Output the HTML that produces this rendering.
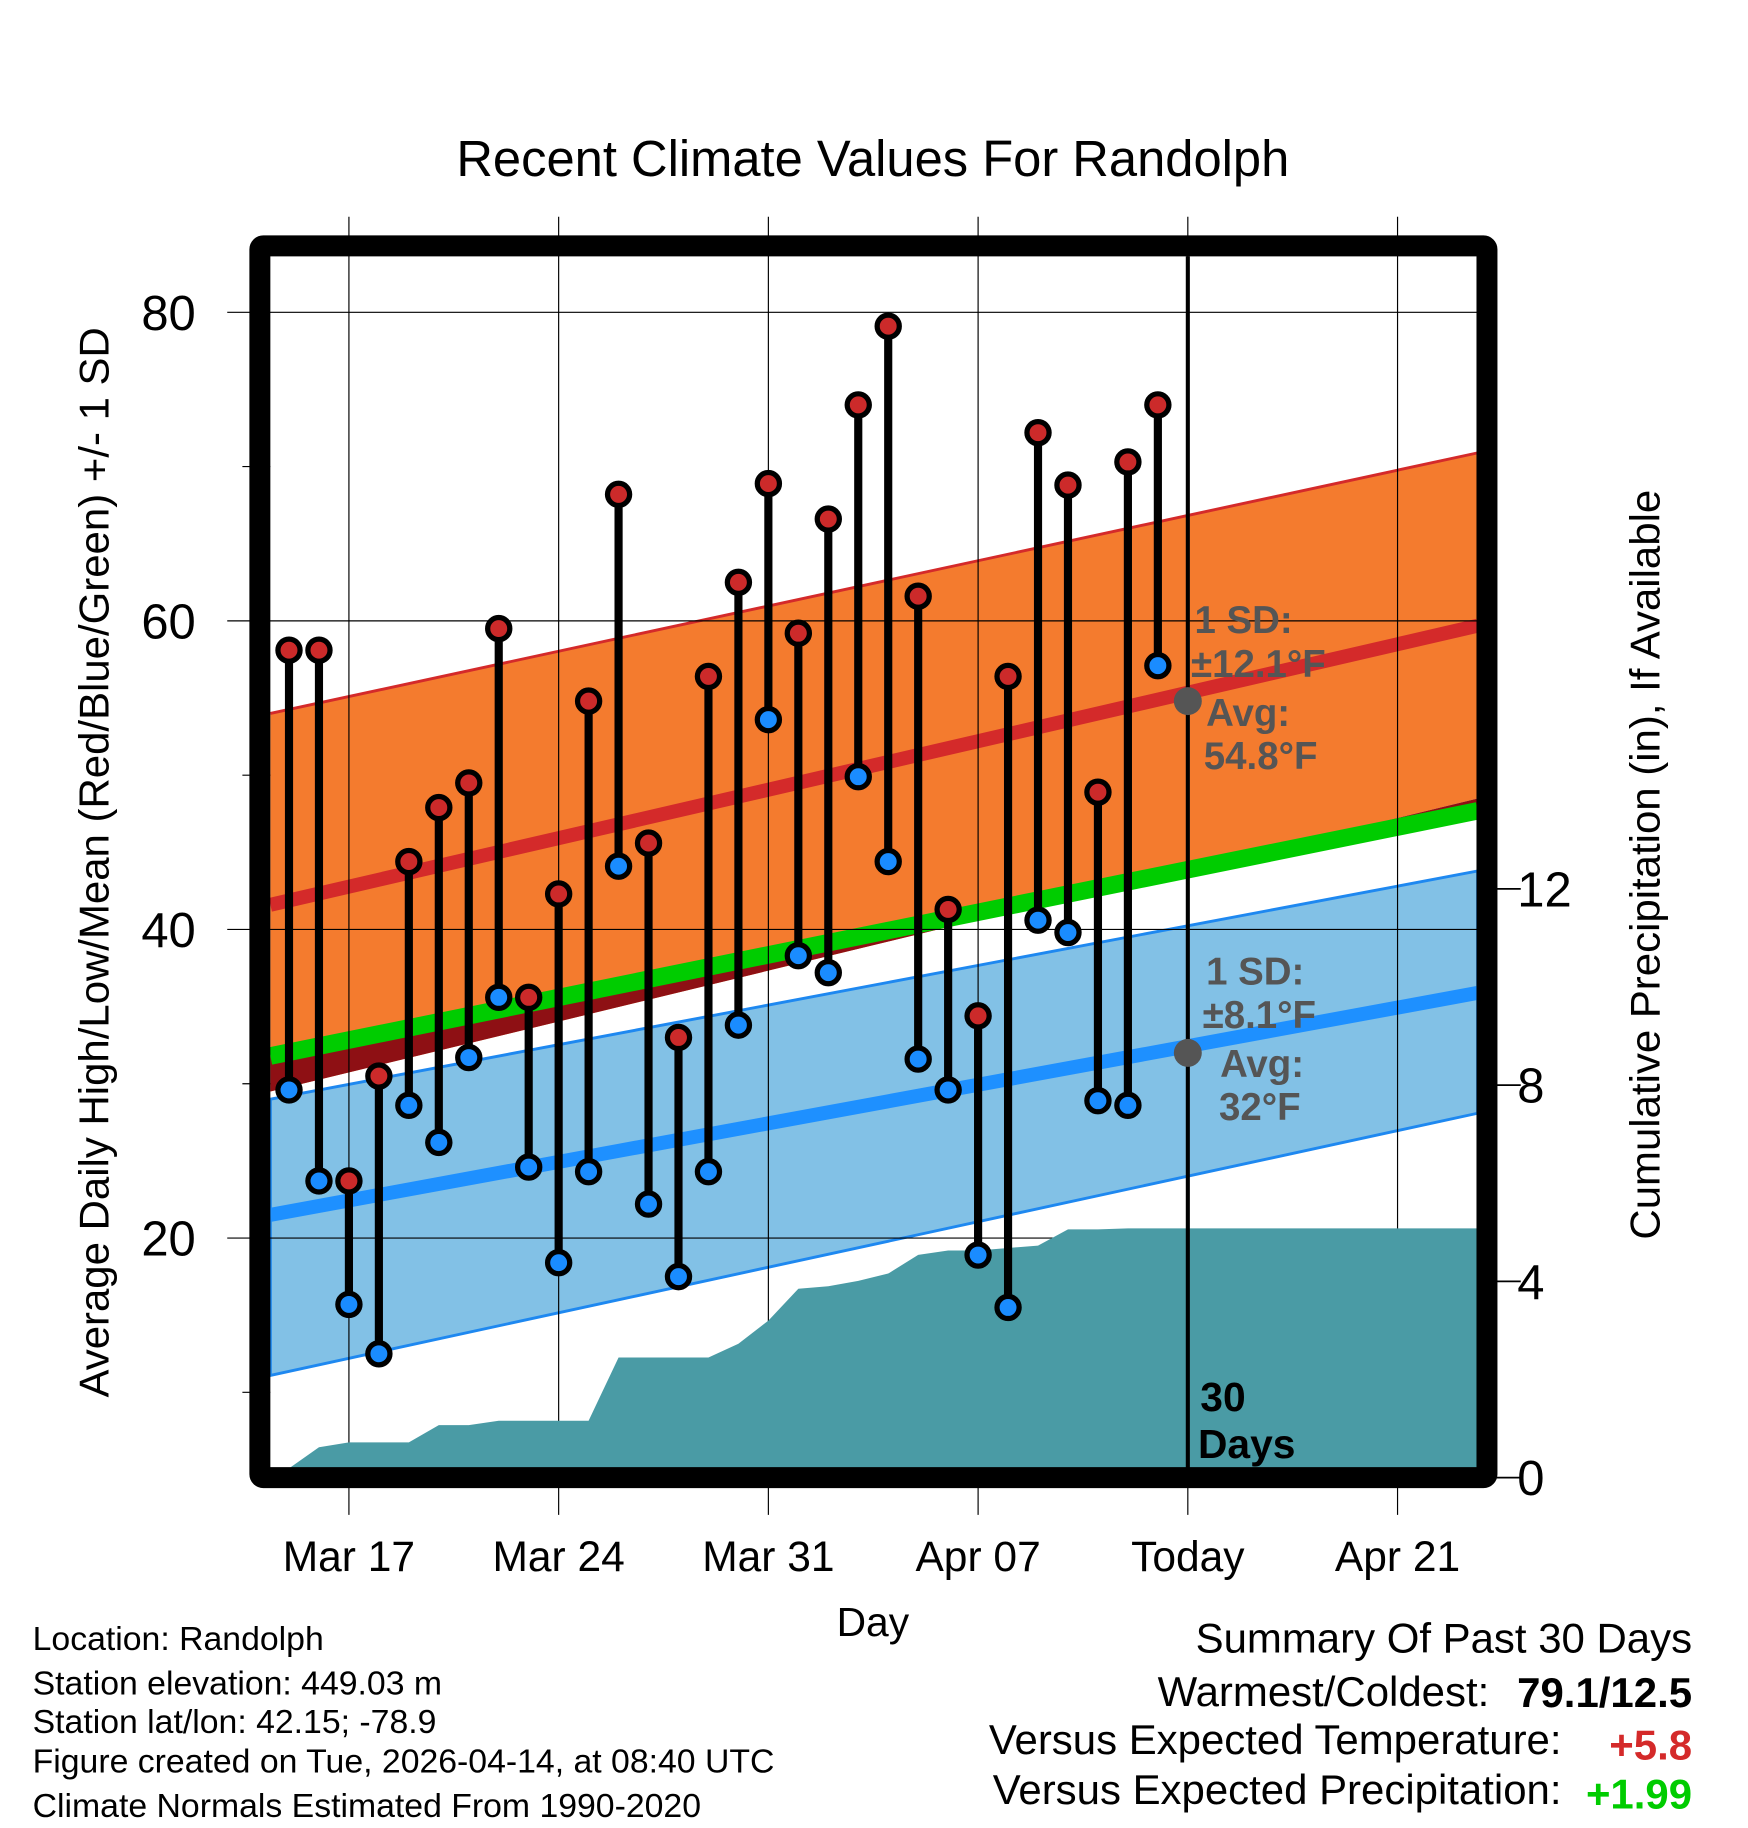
<!DOCTYPE html>
<html><head><meta charset="utf-8"><style>
html,body{margin:0;padding:0;background:#fff}
svg{display:block}
text{font-family:"Liberation Sans",Arial,sans-serif}
</style></head><body>
<svg id="chart" width="1748" height="1828" viewBox="0 0 1500 1568.65" xmlns="http://www.w3.org/2000/svg">
<g id="bands"></g>
<g id="grid"></g>
<g id="precip"></g>
<g id="marks"></g>
<g id="frame"></g>
<g id="labels"></g>
</svg>
<script>
// ---- data ----
const dayIndex = [0,1,2,3,4,5,6,7,8,9,10,11,12,13,14,15,16,17,18,19,20,21,22,23,24,25,26,27,28,29];
const highs = [58.1,58.1,23.7,30.5,44.4,47.9,49.5,59.5,35.6,42.3,54.8,68.2,45.6,33.0,56.4,62.5,68.9,59.2,66.6,74.0,79.1,61.6,41.3,34.4,56.4,72.2,68.8,48.9,70.3,74.0];
const lows  = [29.6,23.7,15.7,12.5,28.6,26.2,31.7,35.6,24.6,18.4,24.3,44.1,22.2,17.5,24.3,33.8,53.6,38.3,37.2,49.9,44.4,31.6,29.6,18.9,15.5,40.6,39.8,28.9,28.6,57.1];
const precipCum = [0,0.62,0.72,0.72,0.72,1.07,1.07,1.16,1.16,1.16,1.16,2.45,2.45,2.45,2.45,2.73,3.2,3.85,3.9,4.01,4.16,4.54,4.63,4.63,4.68,4.73,5.06,5.06,5.08,5.08];
const normDays = [-0.62, 39.7];
const normHigh = [41.6, 59.7];
const normHighSDup = [54.0, 70.9];
const normHighSDlo = [29.5, 48.5];
const normMean = [31.8, 47.7];
const normLow = [21.5, 35.9];
const normLowSDup = [29.0, 43.8];
const normLowSDlo = [11.1, 28.1];
const yTicks = [20,40,60,80];
const yMinor = [10,30,50,70];
const pTicks = [0,4,8,12];
const xTickDays = [2,9,16,23,30,37];
const xTickLabels = ["Mar 17","Mar 24","Mar 31","Apr 07","Today","Apr 21"];

// ---- axes ----
const X0=232,X1=1268,Y0=220,Y1=1260;
const xs = d => 248 + d*25.71;
const ys = v => 268 + (80-v)*13.24;
const yp = p => 1268 - p*42.1;
const NS='http://www.w3.org/2000/svg';
function mk(parent, tag, attrs){const e=document.createElementNS(NS,tag);for(const k in attrs)e.setAttribute(k,attrs[k]);document.getElementById(parent).appendChild(e);return e;}
function txt(parent, x,y,s,attrs){const e=mk(parent,'text',Object.assign({x:x,y:y},attrs));e.textContent=s;return e;}
const xa=xs(normDays[0]), xb=xs(normDays[1]);
function lineAt(arr,x){const t=(x-xa)/(xb-xa);return ys(arr[0]+(arr[1]-arr[0])*t);}
const L=X0,R=X1;

let e;
e=mk('bands','polygon',{points:`${L},${lineAt(normHighSDup,L)} ${R},${lineAt(normHighSDup,R)} ${R},${lineAt(normHighSDlo,R)} ${L},${lineAt(normHighSDlo,L)}`,fill:'#f47b2e'});


e=mk('bands','polygon',{points:`${L},${lineAt(normMean,L)} ${R},${lineAt(normMean,R)} ${R},${lineAt(normHighSDlo,R)} ${L},${lineAt(normHighSDlo,L)}`,fill:'#8e1014'});


e=mk('bands','polygon',{points:`${L},${lineAt(normLowSDup,L)} ${R},${lineAt(normLowSDup,R)} ${R},${lineAt(normLowSDlo,R)} ${L},${lineAt(normLowSDlo,L)}`,fill:'#82c1e6',stroke:'#1e88f0','stroke-width':2.5});


e=mk('bands','line',{x1:L,y1:lineAt(normHighSDup,L),x2:R,y2:lineAt(normHighSDup,R),stroke:'#d42a2a','stroke-width':2.5});


e=mk('bands','line',{x1:L,y1:lineAt(normMean,L),x2:R,y2:lineAt(normMean,R),stroke:'#00cc00','stroke-width':15});


e=mk('bands','line',{x1:L,y1:lineAt(normHigh,L),x2:R,y2:lineAt(normHigh,R),stroke:'#d42a2a','stroke-width':12});


e=mk('bands','line',{x1:L,y1:lineAt(normLow,L),x2:R,y2:lineAt(normLow,R),stroke:'#1e90ff','stroke-width':12});



// grid
yTicks.forEach(v=>{
  e=mk('grid','line',{x1:195,y1:ys(v),x2:X1,y2:ys(v),stroke:'#000','stroke-width':1});
  
  
});
yMinor.forEach(v=>{
  e=mk('grid','line',{x1:208,y1:ys(v),x2:X0,y2:ys(v),stroke:'#000','stroke-width':1});
  
  
});
xTickDays.forEach(d=>{
  e=mk('grid','line',{x1:xs(d),y1:186,x2:xs(d),y2:1300,stroke:'#000','stroke-width':1});
  
  
});
pTicks.forEach(p=>{
  e=mk('grid','line',{x1:1276,y1:yp(p),x2:1305,y2:yp(p),stroke:'#000','stroke-width':1.5});
  
  
});

// precip area
let pts=[];
dayIndex.forEach((d,i)=>{pts.push(`${xs(d)},${Math.min(Y1,yp(precipCum[i]))}`);});
pts.push(`${X1},${Math.min(Y1,yp(precipCum[precipCum.length-1]))}`);
pts.push(`${X1},${Y1}`);pts.push(`${xs(0)},${Y1}`);
e=mk('precip','polygon',{points:pts.join(' '),fill:'#4a9ba5'});



e=mk('marks','line',{x1:xs(30),y1:Y0,x2:xs(30),y2:Y1,stroke:'#000','stroke-width':3.5});



dayIndex.forEach((d,i)=>{
  const x=xs(d);
  e=mk('marks','line',{x1:x,y1:ys(highs[i]),x2:x,y2:ys(lows[i]),stroke:'#000','stroke-width':7});
  
  
  e=mk('marks','circle',{cx:x,cy:ys(highs[i]),r:9.5,fill:'#cc2a2a',stroke:'#000','stroke-width':4.5});
  
  
  e=mk('marks','circle',{cx:x,cy:ys(lows[i]),r:9.5,fill:'#1a8cff',stroke:'#000','stroke-width':4.5});
  
  
});
e=mk('marks','circle',{cx:xs(30),cy:ys(54.8),r:12,fill:'#555'});


e=mk('marks','circle',{cx:xs(30),cy:ys(32),r:12,fill:'#555'});



e=mk('frame','rect',{x:223,y:211,width:1053,height:1057,fill:'none',stroke:'#000','stroke-width':18,rx:3});



function T(x,y,s,name,attrs){const t=txt('labels',x,y,s,attrs||{});return t;}
T(749,151,'Recent Climate Values For Randolph','chart-title',{'font-size':43.5,'text-anchor':'middle'});
yTicks.forEach(v=>T(168,ys(v)+15,String(v),'y-tick-label',{'font-size':42,'text-anchor':'end'}));
pTicks.forEach(p=>T(1302,yp(p)+15,String(p),'precip-tick-label',{'font-size':42}));
xTickDays.forEach((d,i)=>T(xs(d),1348,xTickLabels[i],'x-tick-label',{'font-size':36.5,'text-anchor':'middle'}));
T(749,1404,'Day','x-axis-title',{'font-size':35,'text-anchor':'middle'});
T(93,740,'Average Daily High/Low/Mean (Red/Blue/Green) +/- 1 SD','y-axis-title',{'font-size':36,'text-anchor':'middle',transform:'rotate(-90 93 740)'});
T(1424,742,'Cumulative Precipitation (in), If Available','precip-axis-title',{'font-size':36,'text-anchor':'middle',transform:'rotate(-90 1424 742)'});
const g={'font-size':33,'font-weight':'bold',fill:'#555'};
T(1025,543,'1 SD:','high-sd-label',g);
T(1022,581,'±12.1°F','high-sd-value',g);
T(1035,623,'Avg:','high-avg-label',g);
T(1033,660,'54.8°F','high-avg-value',g);
T(1035,845,'1 SD:','low-sd-label',g);
T(1032,882,'±8.1°F','low-sd-value',g);
T(1047,924,'Avg:','low-avg-label',g);
T(1046,961,'32°F','low-avg-value',g);
T(1030,1211,'30','days-count',{'font-size':35,'font-weight':'bold'});
T(1028,1251,'Days','days-label',{'font-size':35,'font-weight':'bold'});
const info=['Location: Randolph','Station elevation: 449.03 m','Station lat/lon: 42.15; -78.9','Figure created on Tue, 2026-04-14, at 08:40 UTC','Climate Normals Estimated From 1990-2020'];
const infoY=[1416,1454,1487,1521,1559];
info.forEach((s,i)=>T(28,infoY[i],s,'station-info-line',{'font-size':29}));
T(1452,1418,'Summary Of Past 30 Days','summary-title',{'font-size':36,'text-anchor':'end'});
T(1278,1464,'Warmest/Coldest:','summary-warmest-label',{'font-size':36,'text-anchor':'end'});
T(1452,1465,'79.1/12.5','summary-warmest-value',{'font-size':36,'text-anchor':'end','font-weight':'bold'});
T(1340,1505,'Versus Expected Temperature:','summary-temp-label',{'font-size':36,'text-anchor':'end'});
T(1452,1510,'+5.8','summary-temp-value',{'font-size':36,'text-anchor':'end','font-weight':'bold',fill:'#d42a2a'});
T(1340,1548,'Versus Expected Precipitation:','summary-precip-label',{'font-size':36,'text-anchor':'end'});
T(1452,1552,'+1.99','summary-precip-value',{'font-size':36,'text-anchor':'end','font-weight':'bold',fill:'#00cc00'});
</script>
</body></html>
